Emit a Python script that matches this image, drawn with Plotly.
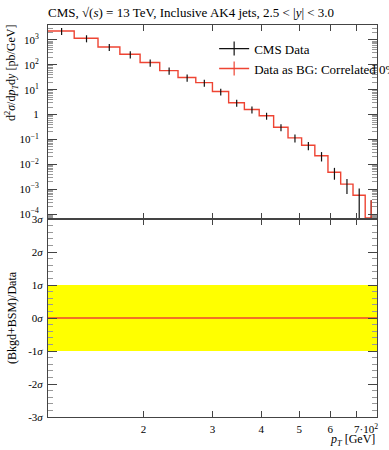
import math
import plotly.graph_objects as go
from plotly.subplots import make_subplots

# ---------------- data ----------------
bin_edges = [114, 133, 153, 174, 196, 220, 245, 272, 300, 330, 362, 395,
             430, 468, 507, 548, 592, 638, 686, 737, 790]
cms_data = [2300, 1170, 520, 265, 123, 58.5, 31, 19.2, 8.4, 3.0, 1.6, 0.90,
            0.31, 0.116, 0.058, 0.022, 0.0048, 0.0016, 5.7e-4, 7e-5]
cms_err = [740, 370, 165, 85, 39, 19, 10, 6.0, 2.6, 0.95, 0.50, 0.28,
           0.097, 0.041, 0.021, 0.009, 0.0024, 0.00096, 5.0e-4, 2.9e-4]
bg_values = [2300, 1170, 520, 265, 123, 58.5, 31, 19.2, 8.4, 3.0, 1.6, 0.90,
             0.31, 0.116, 0.058, 0.022, 0.0048, 0.0016, 5.7e-4, 7e-5]
bg_err = [0, 0, 0, 0, 0, 0, 0, 0, 0, 0, 0, 0,
          0, 0, 0, 0, 0, 0, 0, 2.9e-4]
ratio_sigma = [0, 0, 0, 0, 0, 0, 0, 0, 0, 0, 0, 0,
               0, 0, 0, 0, 0, 0, 0, 0]
sigma_band = [-1, 1]

x_tick_vals = [200, 300, 400, 500, 600, 700]
x_tick_text = ["2", "3", "4", "5", "6",
               "\u00a0" * 7 + "7\u00b710<sup>2</sup>"]
y_tick_vals = [1e3, 1e2, 1e1, 1, 1e-1, 1e-2, 1e-3, 1e-4]
y_tick_text = ["10<sup>3</sup>", "10<sup>2</sup>", "10<sup>1</sup>", "1",
               "10<sup>\u22121</sup>", "10<sup>\u22122</sup>",
               "10<sup>\u22123</sup>", "10<sup>\u22124</sup>"]
r_tick_vals = [3, 2, 1, 0, -1, -2, -3]
r_tick_text = ["3<i>\u03c3</i>", "2<i>\u03c3</i>", "1<i>\u03c3</i>",
               "0<i>\u03c3</i>", "-1<i>\u03c3</i>", "-2<i>\u03c3</i>",
               "-3<i>\u03c3</i>"]

# ---------------- derived ----------------
centers = [(a + b) / 2 for a, b in zip(bin_edges[:-1], bin_edges[1:])]
step_x = bin_edges
step_bg = bg_values + [bg_values[-1]]
step_ratio = ratio_sigma + [ratio_sigma[-1]]
minor_y = [m * 10 ** e for e in range(-5, 4) for m in range(2, 10)]

FONT = "Liberation Serif"
RED = "#EE4433"
FRAME = "#444444"

fig = make_subplots(rows=2, cols=1, shared_xaxes=True, vertical_spacing=0,
                    row_heights=[0.495, 0.505])

# top panel
fig.add_trace(go.Scatter(x=step_x, y=step_bg, mode="lines", line_shape="hv",
                         line=dict(color=RED, width=1.4), showlegend=False,
                         hoverinfo="skip"), row=1, col=1)
fig.add_trace(go.Scatter(x=centers, y=cms_data, mode="markers",
                         marker=dict(size=1, color="rgba(0,0,0,0)"),
                         error_y=dict(type="data", array=cms_err, color="#111111",
                                      thickness=1.2, width=0),
                         showlegend=False), row=1, col=1)
fig.add_trace(go.Scatter(x=centers, y=bg_values, mode="markers",
                         marker=dict(size=1, color="rgba(0,0,0,0)"),
                         error_y=dict(type="data", array=bg_err, color=RED,
                                      thickness=1.2, width=0),
                         showlegend=False), row=1, col=1)
# legend entries
fig.add_trace(go.Scatter(x=[None], y=[None], mode="lines+markers", name="CMS Data",
                         line=dict(color="#111111", width=1.2),
                         marker=dict(symbol="line-ns-open", size=10,
                                     line=dict(color="#111111", width=1.2))),
              row=1, col=1)
fig.add_trace(go.Scatter(x=[None], y=[None], mode="lines+markers",
                         name="Data as BG: Correlated 0%",
                         line=dict(color=RED, width=1.4),
                         marker=dict(symbol="line-ns-open", size=10,
                                     line=dict(color=RED, width=1.2))),
              row=1, col=1)

# bottom panel
fig.add_trace(go.Scatter(x=[bin_edges[0], bin_edges[-1]], y=[sigma_band[0]] * 2,
                         mode="lines", line=dict(width=0), showlegend=False,
                         hoverinfo="skip"), row=2, col=1)
fig.add_trace(go.Scatter(x=[bin_edges[0], bin_edges[-1]], y=[sigma_band[1]] * 2,
                         mode="lines", line=dict(width=0), fill="tonexty",
                         fillcolor="#FFFF00", showlegend=False,
                         hoverinfo="skip"), row=2, col=1)
fig.add_trace(go.Scatter(x=step_x, y=step_ratio, mode="lines", line_shape="hv",
                         line=dict(color=RED, width=1.4), showlegend=False,
                         hoverinfo="skip"), row=2, col=1)

xr = [math.log10(bin_edges[0]), math.log10(bin_edges[-1])]
xcommon = dict(type="log", range=xr, tickmode="array", tickvals=x_tick_vals,
               ticks="inside", ticklen=6, tickcolor=FRAME, tickwidth=1,
               showline=True, linecolor=FRAME, linewidth=1, mirror="ticks",
               showgrid=False, zeroline=False, tickangle=0, automargin=False,
               tickfont=dict(family=FONT, size=11, color="black"))
fig.update_xaxes(**xcommon, showticklabels=False, row=1, col=1)
fig.update_xaxes(**xcommon, ticktext=x_tick_text, showticklabels=True,
                 ticklabelstandoff=2, row=2, col=1)

fig.update_yaxes(type="log", range=[-4.2, 3.6], tickmode="array",
                 tickvals=y_tick_vals, ticktext=y_tick_text,
                 ticks="inside", ticklen=9, tickcolor=FRAME, tickwidth=1,
                 minor=dict(tickmode="array", tickvals=minor_y, ticks="inside",
                            ticklen=5, tickcolor="#999999", tickwidth=1,
                            showgrid=False),
                 showline=True, linecolor=FRAME, linewidth=1, mirror="ticks",
                 showgrid=False, zeroline=False, ticklabelstandoff=6,
                 automargin=False,
                 tickfont=dict(family=FONT, size=11, color="black"),
                 row=1, col=1)
fig.update_yaxes(range=[-3, 3], tickmode="array", tickvals=r_tick_vals,
                 ticktext=r_tick_text,
                 ticks="inside", ticklen=9, tickcolor=FRAME, tickwidth=1,
                 minor=dict(dtick=0.2, ticks="inside", ticklen=5,
                            tickcolor="#999999", tickwidth=1, showgrid=False),
                 showline=True, linecolor=FRAME, linewidth=1, mirror="ticks",
                 showgrid=False, zeroline=False, ticklabelstandoff=2,
                 automargin=False,
                 tickfont=dict(family=FONT, size=11, color="black"),
                 row=2, col=1)

fig.update_layout(
    width=389, height=450,
    margin=dict(l=48, r=12, t=25, b=33, autoexpand=False),
    paper_bgcolor="white", plot_bgcolor="white",
    font=dict(family=FONT, size=13, color="black"),
    title=dict(text="CMS, \u221a(<i>s</i>) = 13 TeV, Inclusive AK4 jets, 2.5 &lt; |<i>y</i>| &lt; 3.0",
               x=0, xref="paper", xanchor="left", y=1 - 12 / 450,
               yref="container", yanchor="middle",
               font=dict(family=FONT, size=13, color="black")),
    legend=dict(x=0.505, y=0.978, xanchor="left", yanchor="top",
                bgcolor="rgba(0,0,0,0)", font=dict(family=FONT, size=13),
                itemwidth=30, tracegroupgap=0, traceorder="normal"),
    showlegend=True,
    annotations=[
        dict(text="d<sup>2</sup><i>\u03c3</i>/d<i>p</i><sub><i>T</i></sub>d<i>y</i> [pb/GeV]",
             textangle=-90, xref="paper", yref="paper", x=0, y=1,
             xshift=-37, yshift=2, xanchor="center", yanchor="top",
             showarrow=False, font=dict(family=FONT, size=12)),
        dict(text="(Bkgd+BSM)/Data", textangle=-90, xref="paper",
             yref="y2 domain", x=0, y=0.5, xshift=-36, xanchor="center",
             yanchor="middle", showarrow=False, font=dict(family=FONT, size=12)),
        dict(text="<i>p</i><sub><i>T</i></sub> [GeV]", xref="paper",
             yref="paper", x=1, y=0, yshift=-23, xanchor="right",
             yanchor="middle", showarrow=False, font=dict(family=FONT, size=12)),
    ],
)

fig.write_html("out.html", config={"displayModeBar": False},
               post_script="document.body.style.margin='0px';")
